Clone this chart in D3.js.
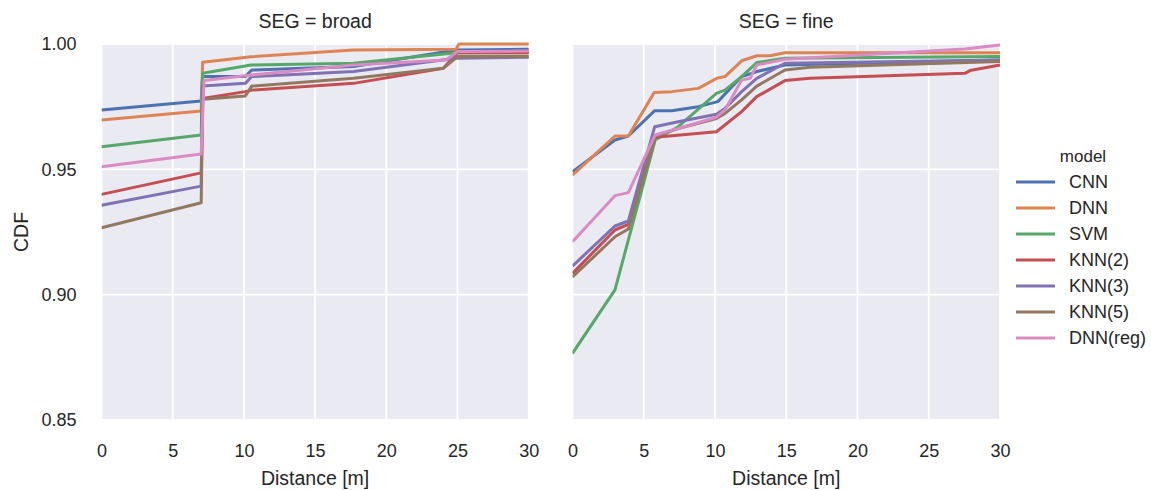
<!DOCTYPE html>
<html>
<head>
<meta charset="utf-8">
<script src="https://cdn.jsdelivr.net/npm/d3@7"></script>
<style>
  body { margin: 0; background: #fff; }
  text { font-family: "Liberation Sans", Arial, sans-serif; fill: #262626; }
</style>
</head>
<body>
<div id="chart"></div>
<script>
// models and their colours (seaborn "deep")
const models = ["CNN", "DNN", "SVM", "KNN(2)", "KNN(3)", "KNN(5)", "DNN(reg)"]
const colors = ["#4C72B0", "#DD8452", "#55A868", "#C44E52", "#8172B3", "#937860", "#DA8BC3"]
const panels = ["broad", "fine"]
const xTicks = [0, 5, 10, 15, 20, 25, 30]
const yTicks = [0.85, 0.90, 0.95, 1.00]

// SEG = broad, [distance, cdf]
const broadCNN = [[0, 0.9737], [7.0, 0.9773], [7.1, 0.9870], [10.1, 0.9870], [10.55, 0.9896], [17.7, 0.9910], [24.9, 0.9976], [30, 0.9979]]
const broadDNN = [[0, 0.9697], [7.0, 0.9733], [7.1, 0.9927], [10.5, 0.9949], [17.7, 0.9976], [24.9, 0.9979], [25.1, 1.0], [30, 1.0]]
const broadSVM = [[0, 0.9590], [7.0, 0.9637], [7.1, 0.9883], [10.5, 0.9916], [17.7, 0.9923], [24.9, 0.9965], [30, 0.9965]]
const broadKNN2 = [[0, 0.9400], [7.0, 0.9486], [7.1, 0.9783], [10.1, 0.9810], [10.55, 0.9816], [17.7, 0.9843], [24.0, 0.9903], [25.0, 0.9965], [30, 0.9965]]
const broadKNN3 = [[0, 0.9357], [7.0, 0.9433], [7.1, 0.9832], [10.1, 0.9843], [10.55, 0.9870], [17.7, 0.9890], [24.9, 0.9943], [30, 0.9947]]
const broadKNN5 = [[0, 0.9267], [7.0, 0.9367], [7.1, 0.9780], [10.1, 0.9793], [10.55, 0.9832], [17.7, 0.9863], [24.0, 0.9903], [25.0, 0.9950], [30, 0.9950]]
const broadDNNreg = [[0, 0.9510], [7.0, 0.9561], [7.2, 0.9854], [10.5, 0.9876], [17.7, 0.9916], [24.2, 0.9936], [25.0, 0.9970], [30, 0.9972]]

// SEG = fine, [distance, cdf]
const fineCNN = [[0, 0.9490], [2.98, 0.9617], [3.92, 0.9633], [5.77, 0.9734], [6.96, 0.9734], [8.83, 0.9750], [10.2, 0.9770], [11.87, 0.9870], [12.93, 0.9890], [14.91, 0.9916], [30, 0.9936]]
const fineDNN = [[0, 0.9477], [2.98, 0.9633], [3.92, 0.9633], [5.74, 0.9807], [6.96, 0.9810], [8.83, 0.9823], [10.12, 0.9863], [10.7, 0.9870], [11.87, 0.9933], [12.93, 0.9953], [13.86, 0.9953], [14.91, 0.9965], [30, 0.9965]]
const fineSVM = [[0, 0.8766], [2.98, 0.9019], [5.8, 0.9617], [7.42, 0.9670], [10.1, 0.9803], [10.7, 0.9816], [11.87, 0.9870], [12.93, 0.9926], [14.91, 0.9943], [30, 0.9950]]
const fineKNN2 = [[0, 0.9085], [2.98, 0.9258], [3.92, 0.9280], [5.8, 0.9628], [10.1, 0.9650], [11.87, 0.9730], [12.93, 0.9790], [14.91, 0.9854], [16.67, 0.9863], [27.54, 0.9883], [27.89, 0.9894], [30, 0.9916]]
const fineKNN3 = [[0, 0.9114], [2.98, 0.9274], [3.92, 0.9294], [5.77, 0.9670], [7.42, 0.9690], [10.1, 0.9720], [10.7, 0.9743], [11.87, 0.9810], [12.93, 0.9863], [14.91, 0.9923], [30, 0.9936]]
const fineKNN5 = [[0, 0.9071], [2.98, 0.9231], [3.92, 0.9262], [5.8, 0.9633], [7.42, 0.9663], [10.1, 0.9703], [10.7, 0.9723], [11.87, 0.9777], [12.93, 0.9832], [14.91, 0.9896], [16.67, 0.9907], [30, 0.9930]]
const fineDNNreg = [[0, 0.9211], [2.98, 0.9395], [3.92, 0.9407], [5.8, 0.9637], [7.42, 0.9663], [10.1, 0.9708], [10.7, 0.9737], [11.87, 0.9856], [12.46, 0.9863], [12.93, 0.9916], [14.91, 0.9939], [27.54, 0.9980], [30, 0.9996]]

const seriesByPanel = {
  broad: [broadCNN, broadDNN, broadSVM, broadKNN2, broadKNN3, broadKNN5, broadDNNreg],
  fine: [fineCNN, fineDNN, fineSVM, fineKNN2, fineKNN3, fineKNN5, fineDNNreg]
}

const width = 1151, height = 490
const svg = d3.select("#chart").append("svg")
  .attr("width", width)
  .attr("height", height)

// panel frames (left edge, right edge)
const panelX = [[101.5, 528.7], [572.5, 1000]]
const plotTop = 44, plotBottom = 420

const yScale = d3.scaleLinear().domain([0.85, 1.0]).range([plotBottom, plotTop])

panels.forEach((seg, i) => {
  const xScale = d3.scaleLinear().domain([0, 30]).range(panelX[i])
  const g = svg.append("g")

  // background
  g.append("rect")
    .attr("x", panelX[i][0])
    .attr("y", plotTop)
    .attr("width", panelX[i][1] - panelX[i][0])
    .attr("height", plotBottom - plotTop)
    .attr("fill", "#EAEAF2")

  // grid
  g.selectAll(".vgrid").data(xTicks).enter().append("line")
    .attr("x1", d => xScale(d)).attr("x2", d => xScale(d))
    .attr("y1", plotTop).attr("y2", plotBottom)
    .attr("stroke", "#fff").attr("stroke-width", 1.8)
  g.selectAll(".hgrid").data(yTicks).enter().append("line")
    .attr("x1", panelX[i][0]).attr("x2", panelX[i][1])
    .attr("y1", d => yScale(d)).attr("y2", d => yScale(d))
    .attr("stroke", "#fff").attr("stroke-width", 1.8)

  // x axis
  const xAxis = d3.axisBottom(xScale).tickValues(xTicks).tickSize(0).tickPadding(24)
  const xg = g.append("g")
    .attr("transform", `translate(0, ${plotBottom})`)
    .call(xAxis)
  xg.select(".domain").remove()
  xg.selectAll("text").attr("font-size", 18).style("fill", "#262626")

  // y axis on first panel only
  if (i === 0) {
    const yAxis = d3.axisLeft(yScale).tickValues(yTicks).tickSize(0).tickPadding(25)
      .tickFormat(d3.format(".2f"))
    const yg = g.append("g")
      .attr("transform", `translate(${panelX[0][0]}, 0)`)
      .call(yAxis)
    yg.select(".domain").remove()
    yg.selectAll("text").attr("font-size", 18).style("fill", "#262626")

    svg.append("text")
      .attr("transform", `translate(28, ${(plotTop + plotBottom) / 2}) rotate(-90)`)
      .attr("text-anchor", "middle")
      .attr("font-size", 19.5)
      .text("CDF")
  }

  // title and x label
  svg.append("text")
    .attr("x", (panelX[i][0] + panelX[i][1]) / 2)
    .attr("y", 28)
    .attr("text-anchor", "middle")
    .attr("font-size", 19.5)
    .text("SEG = " + seg)

  svg.append("text")
    .attr("x", (panelX[i][0] + panelX[i][1]) / 2)
    .attr("y", 485)
    .attr("text-anchor", "middle")
    .attr("font-size", 19.5)
    .text("Distance [m]")

  // lines
  const line = d3.line()
    .x(d => xScale(d[0]))
    .y(d => yScale(d[1]))

  const clipId = "clip" + i
  svg.append("clipPath").attr("id", clipId)
    .append("rect")
    .attr("x", panelX[i][0]).attr("y", plotTop - 2)
    .attr("width", panelX[i][1] - panelX[i][0] + 1).attr("height", plotBottom - plotTop + 4)

  g.append("g").attr("clip-path", `url(#${clipId})`)
    .selectAll("path")
    .data(seriesByPanel[seg])
    .enter()
    .append("path")
    .attr("d", line)
    .attr("fill", "none")
    .attr("stroke", (d, k) => colors[k])
    .attr("stroke-width", 3)
    .attr("stroke-linejoin", "round")
})

// legend
const legend = svg.append("g")
legend.append("text")
  .attr("x", 1083).attr("y", 162)
  .attr("text-anchor", "middle")
  .attr("font-size", 17)
  .text("model")

const items = legend.selectAll(".item").data(models).enter().append("g")
  .attr("transform", (d, k) => `translate(1016, ${182 + k * 26})`)
items.append("line")
  .attr("x1", 0).attr("x2", 39)
  .attr("stroke", (d, k) => colors[k])
  .attr("stroke-width", 3)
items.append("text")
  .attr("x", 53).attr("dy", "0.35em")
  .attr("font-size", 18)
  .text(d => d)
</script>
</body>
</html>
